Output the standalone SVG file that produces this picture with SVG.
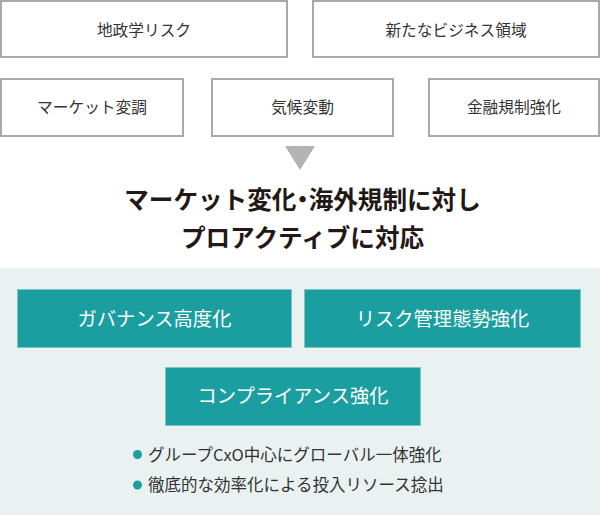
<svg xmlns="http://www.w3.org/2000/svg" width="600" height="515" viewBox="0 0 600 515">
<style>
.gbox{fill:#ffffff;stroke:#a9a9a9;stroke-width:2}
.gt{font-family:"Noto Sans CJK JP","Noto Sans",sans-serif;font-size:15.7px;fill:#333333;text-anchor:middle}
.tbox{fill:#1b9e9f;stroke:#7cc5c5;stroke-width:1}
.tt{font-family:"Noto Sans CJK JP","Noto Sans",sans-serif;font-size:19.3px;fill:#ffffff;text-anchor:middle}
.hd{font-family:"Noto Sans CJK JP","Noto Sans",sans-serif;font-size:24.6px;font-weight:bold;fill:#231815;text-anchor:middle}
.half{font-feature-settings:"halt" 1}
.bt{font-family:"Noto Sans CJK JP","Noto Sans",sans-serif;font-size:16.5px;fill:#333333}
.dot{fill:#1b9e9f}
</style>
<rect x="0" y="0" width="600" height="515" fill="#ffffff"/>
<rect x="0" y="268" width="600" height="247" fill="#eaf2f1"/>
<g id="n1"><rect class="gbox" x="1" y="1" width="286" height="56"/><text class="gt" x="144" y="35.5">地政学リスク</text></g>
<g id="n2"><rect class="gbox" x="313" y="1" width="286" height="56"/><text class="gt" x="456" y="35.5">新たなビジネス領域</text></g>
<g id="n3"><rect class="gbox" x="1" y="79" width="182" height="57"/><text class="gt" x="92" y="113">マーケット変調</text></g>
<g id="n4"><rect class="gbox" x="212" y="79" width="181" height="57"/><text class="gt" x="302.5" y="113">気候変動</text></g>
<g id="n5"><rect class="gbox" x="429" y="79" width="170" height="57"/><text class="gt" x="514" y="113">金融規制強化</text></g>
<g id="connectors"><polygon points="285,146 315,146 300,170" fill="#b3b3b3"/></g>
<g id="heading"><text class="hd half" x="302.5" y="208.5">マーケット変化・海外規制に対し</text><text class="hd" x="302.5" y="246.5">プロアクティブに対応</text></g>
<g id="t1"><rect class="tbox" x="17.5" y="289.5" width="274" height="58"/><text class="tt" x="154.5" y="325.5">ガバナンス高度化</text></g>
<g id="t2"><rect class="tbox" x="304.5" y="289.5" width="276" height="58"/><text class="tt" x="442.5" y="325.5">リスク管理態勢強化</text></g>
<g id="t3"><rect class="tbox" x="165.5" y="367.5" width="255" height="58"/><text class="tt" x="293" y="402.5">コンプライアンス強化</text></g>
<g id="bullets">
<circle class="dot" cx="137.5" cy="454.5" r="4.5"/><text class="bt" x="148" y="460.5">グループCxO中心にグローバル一体強化</text>
<circle class="dot" cx="137.5" cy="485" r="4.5"/><text class="bt" x="148" y="491">徹底的な効率化による投入リソース捻出</text>
</g>
</svg>
